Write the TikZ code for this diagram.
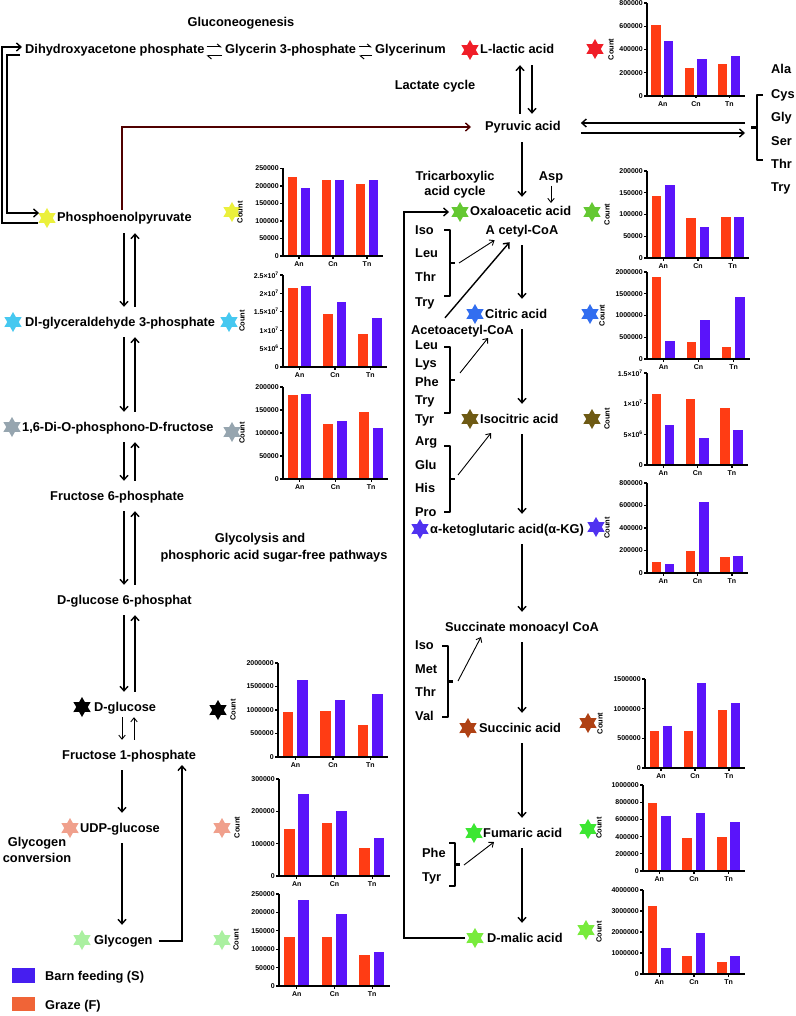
\documentclass[tikz,border=0pt]{standalone}
\usepackage{fontspec}
\setmainfont{Liberation Sans}
\usetikzlibrary{arrows.meta,shapes.geometric}
\definecolor{barorange}{RGB}{255,60,20}
\definecolor{barblue}{RGB}{90,20,250}
\definecolor{legblue}{RGB}{70,30,240}
\definecolor{legorange}{RGB}{240,100,55}
\definecolor{darkred}{RGB}{80,0,0}
\definecolor{cRed}{RGB}{240,30,40}
\definecolor{cYellow}{RGB}{235,240,60}
\definecolor{cCyan}{RGB}{70,200,240}
\definecolor{cGray}{RGB}{150,165,175}
\definecolor{cSalmon}{RGB}{240,160,140}
\definecolor{cLGreen}{RGB}{170,240,160}
\definecolor{cOxa}{RGB}{100,200,50}
\definecolor{cCit}{RGB}{50,110,240}
\definecolor{cIso}{RGB}{110,90,20}
\definecolor{cAkg}{RGB}{80,50,240}
\definecolor{cSuc}{RGB}{175,65,20}
\definecolor{cFum}{RGB}{60,230,50}
\definecolor{cMal}{RGB}{120,235,60}
\tikzset{
  lbl/.style={font=\fontsize{12.8}{15}\selectfont\bfseries, inner xsep=0pt, inner ysep=9pt, text height=10pt, text depth=2pt, anchor=west},
  clbl/.style={lbl, anchor=center},
  ttl/.style={font=\fontsize{12.8}{15.5}\selectfont\bfseries, inner sep=0pt, align=center},
  arr/.style={line width=1.4pt, -{Straight Barb[length=4.5pt,width=8pt]}},
  tarr/.style={line width=0.9pt, -{Straight Barb[length=4pt,width=6.5pt]}},
  harp/.style={line width=1pt, -{Straight Barb[left,length=3.5pt,width=6pt]}},
  sqb/.style={line width=2.3pt, line join=round},
  hstar/.style={star, star points=6, star point ratio=1.75, minimum size=20pt, inner sep=0pt, draw=none, fill=#1},
  chaxis/.style={line width=1.3pt},
  tklab/.style={anchor=east, font=\fontsize{7}{8}\selectfont\bfseries, inner sep=0.6pt},
  xtlab/.style={font=\fontsize{7}{8}\selectfont\bfseries, inner sep=0pt},
  countl/.style={rotate=90, font=\fontsize{7.5}{8}\selectfont\bfseries, inner sep=0pt}
}
\newcommand\bchart[8]{%
 \begin{scope}[shift={(#1,#2)}]
  \pgfmathsetmacro\cw{#4/100}%
  \foreach \v [count=\i] in {#7}{%
    \pgfmathsetmacro\xo{{4.5,17.5,38.5,51.5,72.5,85.5}[\i-1]*\cw}%
    \pgfmathsetmacro\hh{\v/#5*#3}%
    \pgfmathsetmacro\bw{9.5*\cw}%
    \ifodd\i\relax\def\bcol{barorange}\else\def\bcol{barblue}\fi
    \fill[\bcol] (\xo,0) rectangle ++(\bw,-\hh);
  }
  \draw[chaxis] (0,-#3) -- (0,0) -- (#4,0);
  \foreach \tv/\tl in {#6}{%
    \pgfmathsetmacro\ty{\tv/#5*#3}%
    \draw[chaxis] (0,-\ty) -- (-3,-\ty) node[tklab] {\tl};
  }
  \foreach \gx/\gl in {16/An,50/Cn,84/Tn}{%
    \pgfmathsetmacro\gxx{\gx*\cw}%
    \draw[chaxis] (\gxx,0) -- (\gxx,2.5);
    \node[xtlab] at (\gxx,8.5) {\gl};
  }
  \node[countl] at (#8-#1,-#3/2) {Count};
 \end{scope}}
% square brace pointing right: x of hooks, y top, y bottom
\newcommand\rbr[3]{%
  \pgfmathsetmacro\bmid{(#2+#3)/2}%
  \draw[sqb] (#1,#2) -- ({#1+6},#2) -- ({#1+6},#3) -- (#1,#3);
  \draw[sqb] ({#1+6},\bmid) -- ({#1+11},\bmid);}
\begin{document}
\begin{tikzpicture}[x=1pt,y=-1pt]
\useasboundingbox[fill=white] (0,0) rectangle (795,1016);

% ---------- top row ----------
\node[ttl] (gluco) at (241,23) {Gluconeogenesis};
\node[lbl] (dhap) at (25,50) {Dihydroxyacetone phosphate};
\node[lbl] (gly3p) at (225,50) {Glycerin 3-phosphate};
\node[lbl] (glyc) at (375,50) {Glycerinum};
\draw[harp] ([xshift=2pt,yshift=3pt]dhap.east) -- ([xshift=-3pt,yshift=3pt]gly3p.west);
\draw[harp] ([xshift=-3pt,yshift=-6pt]gly3p.west) -- ([xshift=2pt,yshift=-6pt]dhap.east);
\draw[harp] ([xshift=3pt,yshift=3pt]gly3p.east) -- ([xshift=-3pt,yshift=3pt]glyc.west);
\draw[harp] ([xshift=-3pt,yshift=-6pt]glyc.west) -- ([xshift=3pt,yshift=-6pt]gly3p.east);

% ---------- left column ----------
\node[hstar=cYellow] (sPep) at (47,218) {};
\node[lbl] (pep) at (57,218) {Phosphoenolpyruvate};
\node[hstar=cCyan] (sG3p) at (13,322) {};
\node[lbl] (g3p) at (25,322) {Dl-glyceraldehyde 3-phosphate};
\node[hstar=cGray] (sFbp) at (12,427) {};
\node[lbl] (fbp) at (22,427) {1,6-Di-O-phosphono-D-fructose};
\node[lbl] (f6p) at (50,496) {Fructose 6-phosphate};
\node[lbl] (g6p) at (57,600) {D-glucose 6-phosphat};
\node[hstar=black] (sGlc) at (82,707) {};
\node[lbl] (glc) at (94,707) {D-glucose};
\node[lbl] (f1p) at (62,755) {Fructose 1-phosphate};
\node[hstar=cSalmon] (sUdp) at (70,828) {};
\node[lbl] (udp) at (80,828) {UDP-glucose};
\node[hstar=cLGreen] (sGlg) at (82,940) {};
\node[lbl] (glg) at (94,940) {Glycogen};
\node[ttl] (glgconv) at (37,850) {Glycogen\\conversion};
\node[ttl] (glyco1) at (260,539) {Glycolysis and};
\node[ttl] (glyco2) at (274,556) {phosphoric acid sugar-free pathways};

\coordinate (cD) at (124,0);
\coordinate (cU) at (135,0);
\coordinate (cS) at (122,0);
\draw[arr] (cD |- pep.south) -- (cD |- g3p.north);
\draw[arr] (cU |- g3p.north) -- (cU |- pep.south);
\draw[arr] (cD |- g3p.south) -- (cD |- fbp.north);
\draw[arr] (cU |- fbp.north) -- (cU |- g3p.south);
\draw[arr] (cD |- fbp.south) -- (cD |- f6p.north);
\draw[arr] (cU |- f6p.north) -- (cU |- fbp.south);
\draw[arr] (cD |- f6p.south) -- (cD |- g6p.north);
\draw[arr] (cU |- g6p.north) -- (cU |- f6p.south);
\draw[arr] (cD |- g6p.south) -- (cD |- glc.north);
\draw[arr] (cU |- glc.north) -- (cU |- g6p.south);
\draw[tarr, shorten <=-5pt] (cS |- glc.south) -- (cS |- f1p.north);
\draw[tarr, shorten >=-5pt] ([xshift=12pt]cS |- f1p.north) -- ([xshift=12pt]cS |- glc.south);
\draw[arr] (cS |- f1p.south) -- (cS |- udp.north);
\draw[arr] (cS |- udp.south) -- (cS |- glg.north);
\coordinate (glgR) at (182,941);
\draw[arr] ([xshift=6pt,yshift=-1pt]glg.east) -- (glgR) -- (182,765);

% double bracket line DHAP <-> PEP
\coordinate (oA) at (38,223);
\coordinate (iA) at (20,55);
\draw[arr] (oA) -- (2,223) -- (2,47) -- ([xshift=-3pt,yshift=3pt]dhap.west);
\draw[arr] (iA) -- (7,55) -- (7,213) -- ([xshift=-2pt,yshift=5pt]sPep.west);

% ---------- right column ----------
\node[hstar=cRed] (sLac) at (470,50) {};
\node[lbl] (lac) at (480,50) {L-lactic acid};
\node[ttl] (lcyc) at (435,86) {Lactate cycle};
\node[lbl] (pyr) at (485,127) {Pyruvic acid};
\node[ttl] (tca) at (455,184.5) {Tricarboxylic\\acid cycle};
\node[ttl] (asp) at (551,177) {Asp};
\node[hstar=cOxa] (sOxa) at (460,212) {};
\node[lbl] (oxa) at (470,212) {Oxaloacetic acid};
\node[clbl] (acet) at (522,230) {A cetyl-CoA};
\node[hstar=cCit] (sCit) at (475,314) {};
\node[lbl] (cit) at (485,314) {Citric acid};
\node[lbl] (acac) at (411,330) {Acetoacetyl-CoA};
\node[hstar=cIso] (sIso) at (470,419) {};
\node[lbl] (iso) at (480,419) {Isocitric acid};
\node[hstar=cAkg] (sAkg) at (420,529) {};
\node[lbl] (akg) at (430,529) {α-ketoglutaric acid(α-KG)};
\node[clbl] (sca) at (522,627) {Succinate monoacyl CoA};
\node[hstar=cSuc] (sSuc) at (468,728) {};
\node[lbl] (suc) at (479,728) {Succinic acid};
\node[hstar=cFum] (sFum) at (474,833) {};
\node[lbl] (fum) at (483,833) {Fumaric acid};
\node[hstar=cMal] (sMal) at (475,938) {};
\node[lbl] (mal) at (487,938) {D-malic acid};

% PEP -> Pyruvic
\coordinate (pepTop) at (122,210);
\draw[arr, draw=darkred] (pepTop) -- (122,127) -- ([xshift=-14pt]pyr.west);

\coordinate (cL1) at (520,0);
\coordinate (cL2) at (532,0);
\coordinate (cR) at (522,0);
\draw[arr, shorten <=-2pt] (cL1 |- pyr.north) -- (cL1 |- lac.south);
\draw[arr, shorten >=-2pt] (cL2 |- lac.south) -- (cL2 |- pyr.north);
\draw[arr] (cR |- pyr.south) -- (cR |- oxa.north);
\draw[tarr] ([yshift=-3pt]asp.south) -- (551,203);
\draw[arr] (cR |- acet.south) -- (cR |- cit.north);
\draw[arr] (cR |- cit.south) -- (cR |- iso.north);
\draw[arr] (cR |- iso.south) -- (cR |- akg.north);
\draw[arr] (cR |- akg.south) -- (cR |- sca.north);
\draw[arr] (cR |- sca.south) -- (cR |- suc.north);
\draw[arr] (cR |- suc.south) -- (cR |- fum.north);
\draw[arr] (cR |- fum.south) -- (cR |- mal.north);

% loop malic -> oxaloacetic
\draw[arr] ([xshift=-10pt]sMal.center) -- (404,938) -- (404,212) -- ([xshift=-5pt]sOxa.west);

% amino acid groups
\foreach \t/\yy [count=\k] in {Iso/230,Leu/254,Thr/277,Try/302}
  \node[lbl, inner ysep=0pt] (ga\k) at (415,\yy) {\t};
\foreach \t/\yy [count=\k] in {Leu/345,Lys/363,Phe/382,Try/400,Tyr/419}
  \node[lbl, inner ysep=0pt] (gb\k) at (415,\yy) {\t};
\foreach \t/\yy [count=\k] in {Arg/441,Glu/465,His/488,Pro/512}
  \node[lbl, inner ysep=0pt] (gc\k) at (415,\yy) {\t};
\foreach \t/\yy [count=\k] in {Iso/645,Met/669,Thr/692,Val/716}
  \node[lbl, inner ysep=0pt] (gd\k) at (415,\yy) {\t};
\foreach \t/\yy [count=\k] in {Phe/853,Tyr/877}
  \node[lbl, inner ysep=0pt] (ge\k) at (422,\yy) {\t};
\foreach \t/\yy [count=\k] in {Ala/70,Cys/95,Gly/118,Ser/142,Thr/165,Try/188}
  \node[lbl, inner ysep=0pt] (gf\k) at (771,\yy) {\t};

\rbr{444}{230}{296}
\rbr{444}{347}{413}
\rbr{444}{446}{512}
\rbr{442}{646}{717}
\rbr{449}{843}{886}
\draw[sqb] (763,95) -- (757,95) -- (757,160) -- (763,160);
\draw[sqb] (757,127.5) -- (751,127.5);

\coordinate (ba) at (459,263);
\coordinate (bb) at (460,373);
\coordinate (bc) at (458,475);
\coordinate (bd) at (458,681);
\coordinate (be) at (464,865);
\draw[tarr] (ba) -- ([xshift=9pt,yshift=5pt]acet.south west);
\draw[arr] ([xshift=34pt,yshift=-3pt]acac.north west) -- ([xshift=24pt,yshift=3pt]acet.south west);
\draw[tarr] (bb) -- (488,338);
\draw[tarr] (bc) -- (491,433);
\draw[tarr] (bd) -- (481,637);
\draw[tarr] (be) -- (494,842);

% pyruvic <-> amino acids
\coordinate (brU) at (745,123);
\coordinate (brD) at (745,133);
\draw[arr] (brU) -- ([xshift=20pt,yshift=4pt]pyr.east);
\draw[arr] ([xshift=20pt,yshift=-6pt]pyr.east) -- (brD);

% ---------- chart stars ----------
\node[hstar=cRed] (csLac) at (595,49) {};
\node[hstar=cOxa] (csOxa) at (592,212) {};
\node[hstar=cCit] (csCit) at (590,314) {};
\node[hstar=cIso] (csIso) at (592,419) {};
\node[hstar=cAkg] (csAkg) at (596,527) {};
\node[hstar=cSuc] (csSuc) at (588,723) {};
\node[hstar=cFum] (csFum) at (588,829) {};
\node[hstar=cMal] (csMal) at (586,930) {};
\node[hstar=cYellow] (csPep) at (232,212) {};
\node[hstar=cCyan] (csG3p) at (229,322) {};
\node[hstar=cGray] (csFbp) at (232,432) {};
\node[hstar=black] (csGlc) at (218,710) {};
\node[hstar=cSalmon] (csUdp) at (222,828) {};
\node[hstar=cLGreen] (csGlg) at (222,940) {};

% ---------- charts ----------
\bchart{647}{96}{93}{98}{800}{0/0,200/200000,400/400000,600/600000,800/800000}{612,470,240,320,275,345}{611}
\bchart{647}{258}{87}{102}{200}{0/0,50/50000,100/100000,150/150000,200/200000}{142,168,93,72,94,94}{607}
\bchart{647}{359}{87}{103}{2000}{0/0,500/500000,1000/1000000,1500/1500000,2000/2000000}{1880,410,380,900,280,1420}{602}
\bchart{647}{465}{92}{101}{15}{0/0,5/{5×10\textsuperscript{6}},10/{1×10\textsuperscript{7}},15/{1.5×10\textsuperscript{7}}}{11.5,6.5,10.8,4.4,9.3,5.7}{607}
\bchart{647}{573}{90}{101}{800}{0/0,200/200000,400/400000,600/600000,800/800000}{95,78,195,635,140,155}{607}
\bchart{645}{768}{89}{100}{1500}{0/0,500/500000,1000/1000000,1500/1500000}{620,700,630,1430,980,1090}{600}
\bchart{643}{871}{86}{102}{1000}{0/0,200/200000,400/400000,600/600000,800/800000,1000/1000000}{790,640,380,670,390,570}{599}
\bchart{643}{974}{84}{102}{4000}{0/0,1000/1000000,2000/2000000,3000/3000000,4000/4000000}{3220,1250,870,1970,570,870}{599}
\bchart{283}{256}{87.5}{100}{250}{0/0,50/50000,100/100000,150/150000,200/200000,250/250000}{225,195,218,217,205,218}{240}
\bchart{283}{367}{92}{104}{25}{0/0,5/{5×10\textsuperscript{6}},10/{1×10\textsuperscript{7}},15/{1.5×10\textsuperscript{7}},20/{2×10\textsuperscript{7}},25/{2.5×10\textsuperscript{7}}}{21.5,22,14.3,17.7,9,13.2}{242}
\bchart{283}{479}{92}{105}{200}{0/0,50/50000,100/100000,150/150000,200/200000}{182,185,120,127,146,110}{242}
\bchart{278}{757}{94}{110}{2000}{0/0,500/500000,1000/1000000,1500/1500000,2000/2000000}{950,1630,980,1210,690,1330}{233}
\bchart{279}{876}{97}{111}{300}{0/0,100/100000,200/200000,300/300000}{145,253,165,200,88,118}{237}
\bchart{279}{986}{92}{111}{250}{0/0,50/50000,100/100000,150/150000,200/200000,250/250000}{132,235,133,197,85,92}{236}

% ---------- legend ----------
\node[fill=legblue, minimum width=23pt, minimum height=15pt, inner sep=0pt] (lgb) at (23.5,975.5) {};
\node[lbl, inner ysep=0pt] (lgbt) at (45,976) {Barn feeding (S)};
\node[fill=legorange, minimum width=23pt, minimum height=14pt, inner sep=0pt] (lgo) at (23.5,1004) {};
\node[lbl, inner ysep=0pt] (lgot) at (45,1005) {Graze (F)};
\end{tikzpicture}
\end{document}
